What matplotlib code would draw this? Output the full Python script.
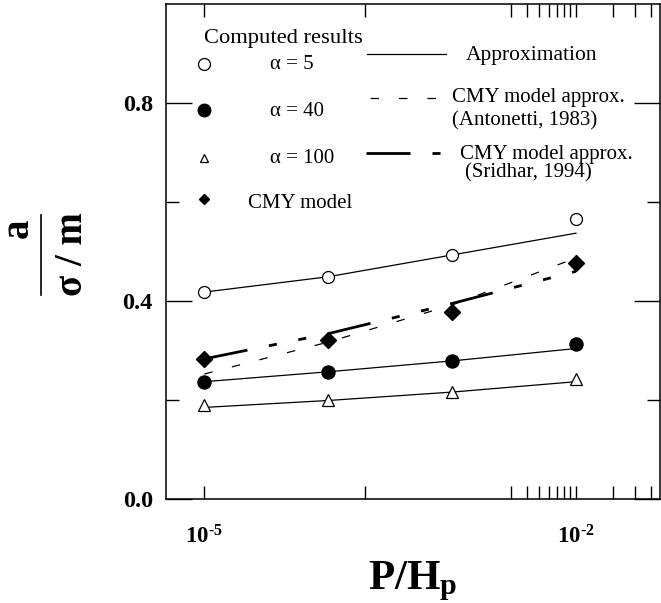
import matplotlib
matplotlib.use("Agg")
import matplotlib.pyplot as plt
from matplotlib.lines import Line2D
from matplotlib.ticker import FixedLocator, FixedFormatter, NullFormatter

plt.rcParams["font.family"] = ["Liberation Serif", "DejaVu Serif"]
plt.rcParams["mathtext.fontset"] = "custom"
plt.rcParams["mathtext.rm"] = "Liberation Serif"
plt.rcParams["mathtext.bf"] = "Liberation Serif:bold"
plt.rcParams["mathtext.it"] = "Liberation Serif:italic"
plt.rcParams["lines.scale_dashes"] = False

# ---- data -------------------------------------------------------------
p_over_hp = [1e-5, 1e-4, 1e-3, 1e-2]

alpha5 = [0.418, 0.448, 0.493, 0.566]
alpha40 = [0.237, 0.257, 0.279, 0.3125]
alpha100 = [0.190, 0.201, 0.217, 0.242]
cmy_model = [0.283, 0.321, 0.377, 0.477]

approx5 = [0.418, 0.449, 0.493, 0.537]
approx40 = [0.237, 0.257, 0.279, 0.304]
approx100 = [0.185, 0.199, 0.216, 0.237]

antonetti = [0.2525, 0.317, 0.392, 0.487]
sridhar = [0.283, 0.334, 0.395, 0.460]

x_major = [1e-5, 2e-4, 1e-2]
x_major_labels = ["$\\mathbf{10^{\u2010 5}}$", "", "$\\mathbf{10^{\u2010 2}}$"]
x_minor = [3e-3, 4e-3, 5e-3, 6e-3, 7e-3, 8e-3, 9e-3, 2e-2, 3e-2, 4e-2]
y_major = [0.0, 0.4, 0.8]
y_major_labels = ["0.0", "0.4", "0.8"]
y_minor = [0.2, 0.6]

# ---- layout (pixels) --------------------------------------------------
W, H = 661, 603
L, R, T, B = 166, 660, 4, 499
fig = plt.figure(figsize=(W / 100, H / 100), dpi=100)
ax = fig.add_axes([L / W, 1 - B / H, (R - L) / W, (B - T) / H])


def fx(px):
    return px / W


def fy(py):
    return 1 - py / H


# dash patterns (points)
thin_dash = (0, (6.1, 14.4))
sridhar_dash = (0, (31.7, 15.8, 5.8, 15.8, 5.8, 15.8))

ax.set_xscale("log")
ax.set_xlim(10 ** -5.309, 10 ** -1.322)
ax.set_ylim(0.0, 1.0)

lw_thin = 0.9
ax.plot(p_over_hp, approx5, color="black", lw=lw_thin, zorder=2)
ax.plot(p_over_hp, approx40, color="black", lw=lw_thin, zorder=2)
ax.plot(p_over_hp, approx100, color="black", lw=lw_thin, zorder=2)
ax.plot(p_over_hp, antonetti, color="black", lw=lw_thin, linestyle=thin_dash, zorder=2)
ax.plot(p_over_hp, sridhar, color="black", lw=2.0, linestyle=sridhar_dash, zorder=2)

ax.plot(p_over_hp, alpha5, linestyle="none", marker="o", ms=8.6, mfc="white",
        mec="black", mew=0.9, zorder=3)
ax.plot(p_over_hp, alpha40, linestyle="none", marker="o", ms=9.4, mfc="black",
        mec="black", zorder=3)
ax.plot(p_over_hp, alpha100, linestyle="none", marker="^", ms=8.6, mfc="white",
        mec="black", mew=0.9, zorder=3)
ax.plot(p_over_hp, cmy_model, linestyle="none", marker="D", ms=7.9, mfc="black",
        mec="black", zorder=3)

# ---- axes styling -----------------------------------------------------
for sp in ax.spines.values():
    sp.set_linewidth(1.1)

ax.xaxis.set_major_locator(FixedLocator(x_major))
ax.xaxis.set_major_formatter(FixedFormatter(x_major_labels))
ax.xaxis.set_minor_locator(FixedLocator(x_minor))
ax.xaxis.set_minor_formatter(NullFormatter())
ax.yaxis.set_major_locator(FixedLocator(y_major))
ax.yaxis.set_major_formatter(FixedFormatter(y_major_labels))
ax.yaxis.set_minor_locator(FixedLocator(y_minor))
ax.yaxis.set_minor_formatter(NullFormatter())

ax.tick_params(axis="both", which="both", direction="in", top=True, right=True,
               width=1.0, colors="black")
ax.tick_params(axis="x", which="both", length=9.4, pad=19, labelsize=16.5)
ax.tick_params(axis="y", which="major", length=18.7, pad=9.4, labelsize=17.5)
ax.tick_params(axis="y", which="minor", length=9.4)
for lab in ax.get_yticklabels():
    lab.set_fontweight("bold")

ax.set_xlabel(r"$\mathbf{P/H_p}$", fontsize=31)
ax.xaxis.set_label_coords(0.5, (B - 560) / (B - T))

# ---- y label as a stacked fraction -----------------------------------
fig.text(fx(18.5), fy(228.5), "a", rotation=90, ha="center", va="center",
         fontsize=28, fontweight="bold")
fig.add_artist(Line2D([fx(40.7), fx(40.7)], [fy(215), fy(295)],
                      transform=fig.transFigure, color="black", lw=1.2))
fig.text(fx(72.5), fy(254), "σ / m", rotation=90, ha="center", va="center",
         fontsize=28, fontweight="bold")

# ---- legend -----------------------------------------------------------
fs_leg = 15
fig.text(fx(204), fy(43), "Computed results", fontsize=16.2, va="baseline")

key_markers = [
    (64, dict(marker="o", ms=8.6, mfc="white", mec="black", mew=0.9)),
    (110, dict(marker="o", ms=9.0, mfc="black", mec="black")),
    (158, dict(marker="^", ms=6.0, mfc="white", mec="black", mew=0.9)),
    (199, dict(marker="D", ms=5.2, mfc="black", mec="black")),
]
for ky, style in key_markers:
    fig.add_artist(Line2D([fx(204)], [fy(ky)], transform=fig.transFigure,
                          linestyle="none", **style))

fig.text(fx(270), fy(69), "α = 5", fontsize=fs_leg, va="baseline")
fig.text(fx(270), fy(116), "α = 40", fontsize=fs_leg, va="baseline")
fig.text(fx(270), fy(163), "α = 100", fontsize=fs_leg, va="baseline")
fig.text(fx(248), fy(208), "CMY model", fontsize=fs_leg, va="baseline")

fig.add_artist(Line2D([fx(367), fx(446)], [fy(54), fy(54)],
                      transform=fig.transFigure, color="black", lw=lw_thin))
fig.text(fx(466), fy(60), "Approximation", fontsize=15.5, va="baseline")

fig.add_artist(Line2D([fx(370), fx(436)], [fy(98), fy(98)],
                      transform=fig.transFigure, color="black", lw=lw_thin,
                      linestyle=thin_dash))
fig.text(fx(452), fy(102), "CMY model approx.", fontsize=fs_leg, va="baseline")
fig.text(fx(452), fy(125), "(Antonetti, 1983)", fontsize=fs_leg, va="baseline")

fig.add_artist(Line2D([fx(366), fx(442)], [fy(153), fy(153)],
                      transform=fig.transFigure, color="black", lw=2.0,
                      linestyle=sridhar_dash))
fig.text(fx(460), fy(159), "CMY model approx.", fontsize=fs_leg, va="baseline")
fig.text(fx(465), fy(177), "(Sridhar, 1994)", fontsize=fs_leg, va="baseline")

fig.savefig("out.png", dpi=100)
